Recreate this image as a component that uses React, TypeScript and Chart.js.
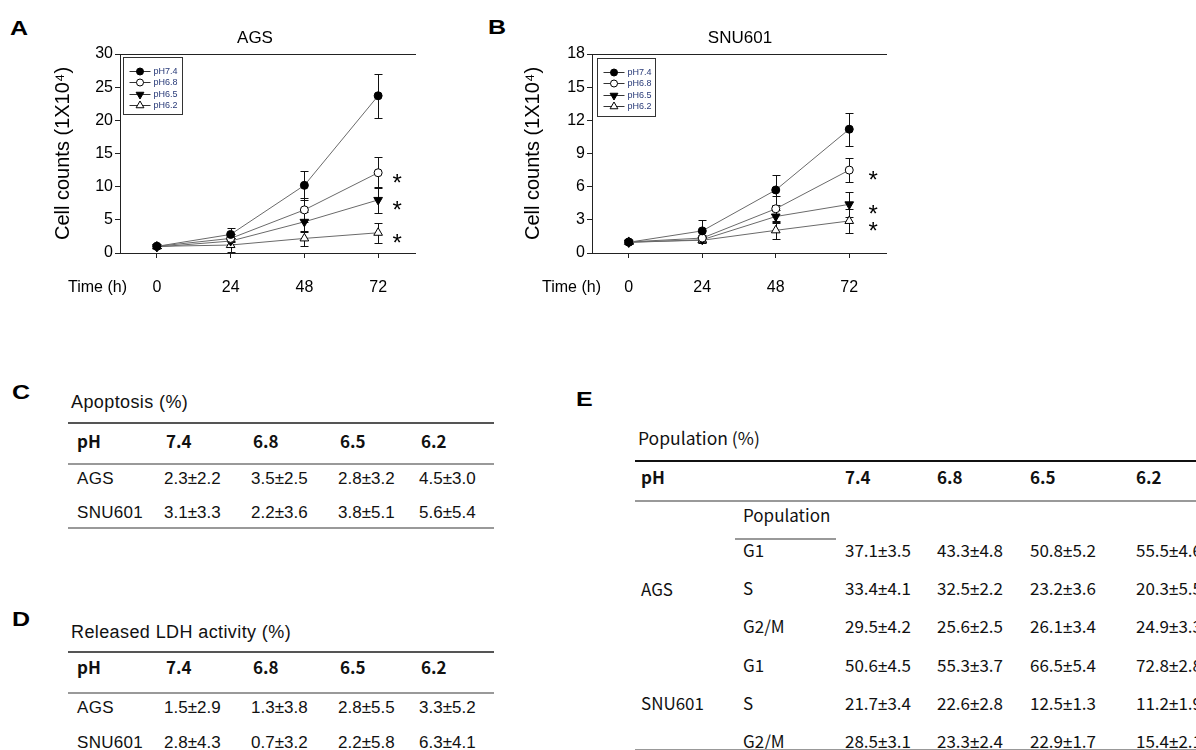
import React, { useEffect, useRef } from 'react';
import { Chart, registerables } from 'chart.js';

Chart.register(...registerables);

// ---------------- data ----------------
const TIME_H = [0, 24, 48, 72];
const SERIES_LABELS = ['pH7.4', 'pH6.8', 'pH6.5', 'pH6.2'];

const AGS_PH74 = [1.0, 2.8, 10.2, 23.7];
const AGS_PH68 = [1.0, 2.2, 6.5, 12.1];
const AGS_PH65 = [0.9, 1.8, 4.7, 8.0];
const AGS_PH62 = [1.0, 1.2, 2.2, 3.05];
const AGS_ERR74 = [0.2, 1.0, 2.2, 3.3];
const AGS_ERR68 = [0.2, 0.6, 1.8, 2.3];
const AGS_ERR65 = [0.2, 0.5, 1.5, 2.0];
const AGS_ERR62 = [0.2, 1.0, 1.1, 1.5];
const AGS_Y_TICKS = [0, 5, 10, 15, 20, 25, 30];

const SNU_PH74 = [0.97, 2.0, 5.7, 11.2];
const SNU_PH68 = [1.0, 1.35, 4.0, 7.5];
const SNU_PH65 = [0.95, 1.2, 3.3, 4.4];
const SNU_PH62 = [1.0, 1.15, 2.05, 2.9];
const SNU_ERR74 = [0.1, 1.0, 1.35, 1.5];
const SNU_ERR68 = [0.1, 0.3, 1.2, 1.1];
const SNU_ERR65 = [0.1, 0.3, 0.6, 1.15];
const SNU_ERR62 = [0.1, 0.2, 0.8, 1.05];
const SNU_Y_TICKS = [0, 3, 6, 9, 12, 15, 18];

const PH_LEVELS = ['7.4', '6.8', '6.5', '6.2'];
const APOPTOSIS_AGS = ['2.3±2.2', '3.5±2.5', '2.8±3.2', '4.5±3.0'];
const APOPTOSIS_SNU601 = ['3.1±3.3', '2.2±3.6', '3.8±5.1', '5.6±5.4'];
const LDH_AGS = ['1.5±2.9', '1.3±3.8', '2.8±5.5', '3.3±5.2'];
const LDH_SNU601 = ['2.8±4.3', '0.7±3.2', '2.2±5.8', '6.3±4.1'];
const PHASES = ['G1', 'S', 'G2/M'];
const POP_AGS = [
  ['37.1±3.5', '43.3±4.8', '50.8±5.2', '55.5±4.6'],
  ['33.4±4.1', '32.5±2.2', '23.2±3.6', '20.3±5.5'],
  ['29.5±4.2', '25.6±2.5', '26.1±3.4', '24.9±3.3'],
];
const POP_SNU601 = [
  ['50.6±4.5', '55.3±3.7', '66.5±5.4', '72.8±2.8'],
  ['21.7±3.4', '22.6±2.8', '12.5±1.3', '11.2±1.9'],
  ['28.5±3.1', '23.3±2.4', '22.9±1.7', '15.4±2.1'],
];

// ---------------- styles ----------------
const ARIAL = 'Arial, "Liberation Sans", Helvetica, sans-serif';
const KR = '"Noto Sans CJK KR", "Malgun Gothic", sans-serif';
const LINE_COLOR = '#6a6a6a';
const AXIS_COLOR = '#222';
const MARKERS = [
  { style: 'circle', rot: 0, r: 4, fill: '#000', legend: 'circle' },
  { style: 'circle', rot: 0, r: 4, fill: '#fff', legend: 'circle' },
  { style: 'triangle', rot: 180, r: 5, fill: '#000', legend: 'down' },
  { style: 'triangle', rot: 0, r: 5, fill: '#fff', legend: 'up' },
];

Chart.defaults.font.family = ARIAL;

function drawMarker(ctx: CanvasRenderingContext2D, kind: string, x: number, y: number, r: number, fill: string) {
  ctx.beginPath();
  if (kind === 'circle') ctx.arc(x, y, r, 0, Math.PI * 2);
  else if (kind === 'down') {
    ctx.moveTo(x - r * 0.866, y - r * 0.5);
    ctx.lineTo(x + r * 0.866, y - r * 0.5);
    ctx.lineTo(x, y + r);
    ctx.closePath();
  } else {
    ctx.moveTo(x, y - r);
    ctx.lineTo(x + r * 0.866, y + r * 0.5);
    ctx.lineTo(x - r * 0.866, y + r * 0.5);
    ctx.closePath();
  }
  ctx.fillStyle = fill;
  ctx.fill();
  ctx.strokeStyle = '#000';
  ctx.lineWidth = 1;
  ctx.stroke();
}

type GrowthProps = {
  left: number;
  title: string;
  titleX: number;
  series: number[][];
  errors: number[][];
  yTicks: number[];
  yWidth: number;
  padRight: number;
  legendDx: number;
  legendDy: number;
  legendW: number;
  legendH: number;
  starDx: number;
  timeX: number;
};

function GrowthChart(p: GrowthProps) {
  const ref = useRef<HTMLCanvasElement>(null);
  useEffect(() => {
    const canvas = ref.current!;
    const datasets = p.series.map((vals, i) => ({
      label: SERIES_LABELS[i],
      data: TIME_H.map((t, j) => ({ x: t, y: vals[j] })),
      borderColor: LINE_COLOR,
      borderWidth: 1,
      showLine: true,
      fill: false,
      tension: 0,
      pointStyle: MARKERS[i].style,
      pointRotation: MARKERS[i].rot,
      pointRadius: MARKERS[i].r,
      pointHoverRadius: MARKERS[i].r,
      pointBackgroundColor: MARKERS[i].fill,
      pointBorderColor: '#000',
      pointBorderWidth: 1,
    }));

    const errorPlugin = {
      id: 'errorBars',
      beforeDatasetsDraw(chart: any) {
        const { ctx } = chart;
        const xs = chart.scales.x;
        const ys = chart.scales.y;
        ctx.save();
        ctx.strokeStyle = '#111';
        ctx.lineWidth = 1;
        p.errors.forEach((errs, di) => {
          const vals = p.series[di];
          errs.forEach((e, i) => {
            const x = Math.round(xs.getPixelForValue(TIME_H[i])) + 0.5;
            const yt = Math.round(ys.getPixelForValue(vals[i] + e)) + 0.5;
            const yb = Math.round(ys.getPixelForValue(vals[i] - e)) + 0.5;
            ctx.beginPath();
            ctx.moveTo(x, yt);
            ctx.lineTo(x, yb);
            ctx.moveTo(x - 4, yt);
            ctx.lineTo(x + 4, yt);
            ctx.moveTo(x - 4, yb);
            ctx.lineTo(x + 4, yb);
            ctx.stroke();
          });
        });
        ctx.restore();
      },
    };

    const overlayPlugin = {
      id: 'overlay',
      afterDraw(chart: any) {
        const { ctx, chartArea } = chart;
        const xs = chart.scales.x;
        const ys = chart.scales.y;
        ctx.save();
        // panel title
        ctx.fillStyle = '#000';
        ctx.font = `17px ${ARIAL}`;
        ctx.textAlign = 'center';
        ctx.textBaseline = 'middle';
        ctx.fillText(p.title, p.titleX, 38.5);
        // time label
        ctx.font = `16px ${ARIAL}`;
        ctx.textAlign = 'left';
        ctx.fillText('Time (h)', p.timeX, 287.5);
        // significance asterisks
        ctx.font = `24px ${ARIAL}`;
        ctx.textAlign = 'center';
        ctx.textBaseline = 'alphabetic';
        const last = TIME_H.length - 1;
        for (let i = 1; i < p.series.length; i++) {
          const x = xs.getPixelForValue(TIME_H[last]) + p.starDx;
          const y = ys.getPixelForValue(p.series[i][last]) + 4 + 13.8;
          ctx.fillText('*', x, y);
        }
        // legend
        const bx = Math.round(chartArea.left + p.legendDx) + 0.5;
        const by = Math.round(chartArea.top + p.legendDy) + 0.5;
        ctx.strokeStyle = '#333';
        ctx.lineWidth = 1;
        ctx.strokeRect(bx, by, p.legendW, p.legendH);
        ctx.font = `9px ${ARIAL}`;
        ctx.textBaseline = 'middle';
        ctx.textAlign = 'left';
        SERIES_LABELS.forEach((lab, i) => {
          const y = Math.round(by + 13.5 + i * 11.4) + 0.5;
          ctx.strokeStyle = '#333';
          ctx.beginPath();
          ctx.moveTo(bx + 6, y);
          ctx.lineTo(bx + 27, y);
          ctx.stroke();
          const m = MARKERS[i];
          drawMarker(ctx, m.legend, bx + 16.5, y, m.legend === 'circle' ? 3.5 : 4.5, m.fill);
          ctx.fillStyle = '#283a78';
          ctx.fillText(lab, bx + 30, y + 0.5);
        });
        ctx.restore();
      },
    };

    const tickFont = { family: ARIAL, size: 16 };
    const chart = new Chart(canvas, {
      type: 'line',
      data: { datasets },
      plugins: [errorPlugin, overlayPlugin],
      options: {
        animation: false,
        responsive: false,
        devicePixelRatio: 1,
        events: [],
        layout: { padding: { top: 54, left: 0, right: p.padRight, bottom: 0 } },
        plugins: { legend: { display: false }, tooltip: { enabled: false }, title: { display: false } },
        scales: {
          x: {
            type: 'linear',
            position: 'bottom',
            min: -12,
            max: 84,
            afterBuildTicks: (s: any) => {
              s.ticks = TIME_H.map((v) => ({ value: v }));
            },
            afterFit: (s: any) => {
              s.height = 57;
            },
            ticks: { font: tickFont, color: '#000', padding: 20, maxRotation: 0, autoSkip: false },
            grid: { display: true, drawOnChartArea: false, drawTicks: true, tickLength: 5, color: AXIS_COLOR, lineWidth: 1 },
            border: { display: true, color: AXIS_COLOR, width: 1 },
          },
          xTop: {
            type: 'linear',
            axis: 'x',
            position: 'top',
            min: -12,
            max: 84,
            ticks: { display: false },
            grid: { display: false, drawTicks: false },
            border: { display: true, color: AXIS_COLOR, width: 1 },
            afterFit: (s: any) => {
              s.height = 0;
            },
          },
          y: {
            type: 'linear',
            position: 'left',
            min: p.yTicks[0],
            max: p.yTicks[p.yTicks.length - 1],
            afterBuildTicks: (s: any) => {
              s.ticks = p.yTicks.map((v) => ({ value: v }));
            },
            afterFit: (s: any) => {
              s.width = p.yWidth;
            },
            ticks: { font: tickFont, color: '#000', padding: 2 },
            grid: { display: true, drawOnChartArea: false, drawTicks: true, tickLength: 5, color: AXIS_COLOR, lineWidth: 1 },
            border: { display: true, color: AXIS_COLOR, width: 1 },
            title: {
              display: true,
              text: 'Cell counts (1X10⁴)',
              color: '#000',
              font: { family: ARIAL, size: 20 },
              padding: { top: 51, bottom: 0 },
            },
          },
        },
      } as any,
    });
    return () => chart.destroy();
  }, []);
  return (
    <canvas
      ref={ref}
      width={440}
      height={310}
      style={{ position: 'absolute', left: p.left, top: 0, width: 440, height: 310 }}
    />
  );
}

// ---------------- text helpers ----------------
function withPM(v: React.ReactNode) {
  if (typeof v !== 'string' || v.indexOf('±') < 0) return v;
  const [a, b] = v.split('±');
  return (
    <>
      {a}
      <span style={{ fontFamily: ARIAL }}>±</span>
      {b}
    </>
  );
}

function Txt(props: {
  x: number;
  cy: number;
  size: number;
  bold?: boolean;
  family?: string;
  spacing?: number;
  children: React.ReactNode;
}) {
  const lh = Math.round(props.size * 1.2);
  const fam = props.family || ARIAL;
  const adj = fam === KR ? -1 : 0;
  return (
    <div
      style={{
        position: 'absolute',
        left: props.x,
        top: props.cy - lh / 2 + adj,
        height: lh,
        lineHeight: `${lh}px`,
        fontSize: props.size,
        fontFamily: fam,
        fontWeight: props.bold ? 700 : 400,
        letterSpacing: props.spacing ? `${props.spacing}px` : undefined,
        whiteSpace: 'nowrap',
        color: '#111',
      }}
    >
      {withPM(props.children)}
    </div>
  );
}

function Letter(props: { x: number; cy: number; t: string }) {
  return (
    <div
      style={{
        position: 'absolute',
        left: props.x,
        top: props.cy - 12,
        height: 24,
        lineHeight: '24px',
        fontSize: 20,
        fontWeight: 700,
        fontFamily: ARIAL,
        transform: 'scaleX(1.25)',
        transformOrigin: 'left center',
        color: '#000',
      }}
    >
      {props.t}
    </div>
  );
}

function Rule(props: { x1: number; x2: number; y: number; w: number; c: string }) {
  return (
    <div
      style={{
        position: 'absolute',
        left: props.x1,
        top: props.y - props.w / 2,
        width: props.x2 - props.x1,
        height: props.w,
        background: props.c,
      }}
    />
  );
}

const CD_COLS = [166, 253, 340, 421];
const E_COLS = [845, 937, 1030, 1136];
const E_ROWS = [551, 589, 627, 665.5, 704, 742];

function SmallTable(props: { title: string; titleCy: number; rows: [string, string[]][]; ys: number[] }) {
  const { ys } = props;
  return (
    <>
      <Txt x={71} cy={props.titleCy} size={18} spacing={0.4}>
        {props.title}
      </Txt>
      <Rule x1={68} x2={494} y={ys[0]} w={2} c="#555" />
      <Txt x={77} cy={ys[1]} size={17} bold family={KR}>
        pH
      </Txt>
      {PH_LEVELS.map((ph, i) => (
        <Txt key={ph} x={CD_COLS[i]} cy={ys[1]} size={17} bold family={KR}>
          {ph}
        </Txt>
      ))}
      <Rule x1={68} x2={494} y={ys[2]} w={2} c="#999" />
      {props.rows.map(([name, vals], r) => (
        <React.Fragment key={name}>
          <Txt x={77} cy={ys[3 + r]} size={17} spacing={0.3}>
            {name}
          </Txt>
          {vals.map((v, i) => (
            <Txt key={i} x={CD_COLS[i] - 2} cy={ys[3 + r]} size={17}>
              {v}
            </Txt>
          ))}
        </React.Fragment>
      ))}
      {ys[5] !== undefined && <Rule x1={68} x2={494} y={ys[5]} w={2} c="#999" />}
    </>
  );
}

export default function App() {
  return (
    <div
      style={{
        position: 'absolute',
        left: 0,
        top: 0,
        width: 1196,
        height: 750,
        overflow: 'hidden',
        background: '#fff',
        fontFamily: ARIAL,
      }}
    >
      <Letter x={10} cy={28} t="A" />
      <Letter x={488} cy={27} t="B" />
      <Letter x={12} cy={392} t="C" />
      <Letter x={12} cy={619} t="D" />
      <Letter x={576} cy={399} t="E" />

      <GrowthChart
        left={0}
        title="AGS"
        titleX={255}
        series={[AGS_PH74, AGS_PH68, AGS_PH65, AGS_PH62]}
        errors={[AGS_ERR74, AGS_ERR68, AGS_ERR65, AGS_ERR62]}
        yTicks={AGS_Y_TICKS}
        yWidth={120}
        padRight={25}
        legendDx={3}
        legendDy={3}
        legendW={59}
        legendH={57}
        starDx={19}
        timeX={68}
      />
      <GrowthChart
        left={470}
        title="SNU601"
        titleX={270}
        series={[SNU_PH74, SNU_PH68, SNU_PH65, SNU_PH62]}
        errors={[SNU_ERR74, SNU_ERR68, SNU_ERR65, SNU_ERR62]}
        yTicks={SNU_Y_TICKS}
        yWidth={122}
        padRight={24}
        legendDx={5}
        legendDy={4}
        legendW={58}
        legendH={58}
        starDx={24}
        timeX={72}
      />

      <SmallTable
        title="Apoptosis (%)"
        titleCy={402}
        rows={[
          ['AGS', APOPTOSIS_AGS],
          ['SNU601', APOPTOSIS_SNU601],
        ]}
        ys={[423, 442, 463.5, 479, 513, 527.5]}
      />
      <SmallTable
        title="Released LDH activity (%)"
        titleCy={632}
        rows={[
          ['AGS', LDH_AGS],
          ['SNU601', LDH_SNU601],
        ]}
        ys={[652, 668, 692.5, 708, 743]}
      />

      {/* Table E */}
      <Txt x={638} cy={438} size={17.5} family={KR}>
        Population (%)
      </Txt>
      <Rule x1={635} x2={1196} y={461} w={1.5} c="#111" />
      <Txt x={641} cy={478} size={17} bold family={KR}>
        pH
      </Txt>
      {PH_LEVELS.map((ph, i) => (
        <Txt key={ph} x={E_COLS[i]} cy={478} size={17} bold family={KR}>
          {ph}
        </Txt>
      ))}
      <Rule x1={635} x2={1196} y={501} w={2} c="#999" />
      <Txt x={743} cy={516} size={17} family={KR}>
        Population
      </Txt>
      <Rule x1={735} x2={836} y={539} w={2} c="#999" />
      <Txt x={641} cy={590} size={17} family={KR}>
        AGS
      </Txt>
      <Txt x={641} cy={704} size={17} family={KR}>
        SNU601
      </Txt>
      {[...POP_AGS, ...POP_SNU601].map((vals, r) => (
        <React.Fragment key={r}>
          <Txt x={743} cy={E_ROWS[r]} size={17} family={KR}>
            {PHASES[r % 3]}
          </Txt>
          {vals.map((v, i) => (
            <Txt key={i} x={E_COLS[i]} cy={E_ROWS[r]} size={17} family={KR}>
              {v}
            </Txt>
          ))}
        </React.Fragment>
      ))}
      <Rule x1={635} x2={1196} y={749.5} w={1.5} c="#999" />
    </div>
  );
}
